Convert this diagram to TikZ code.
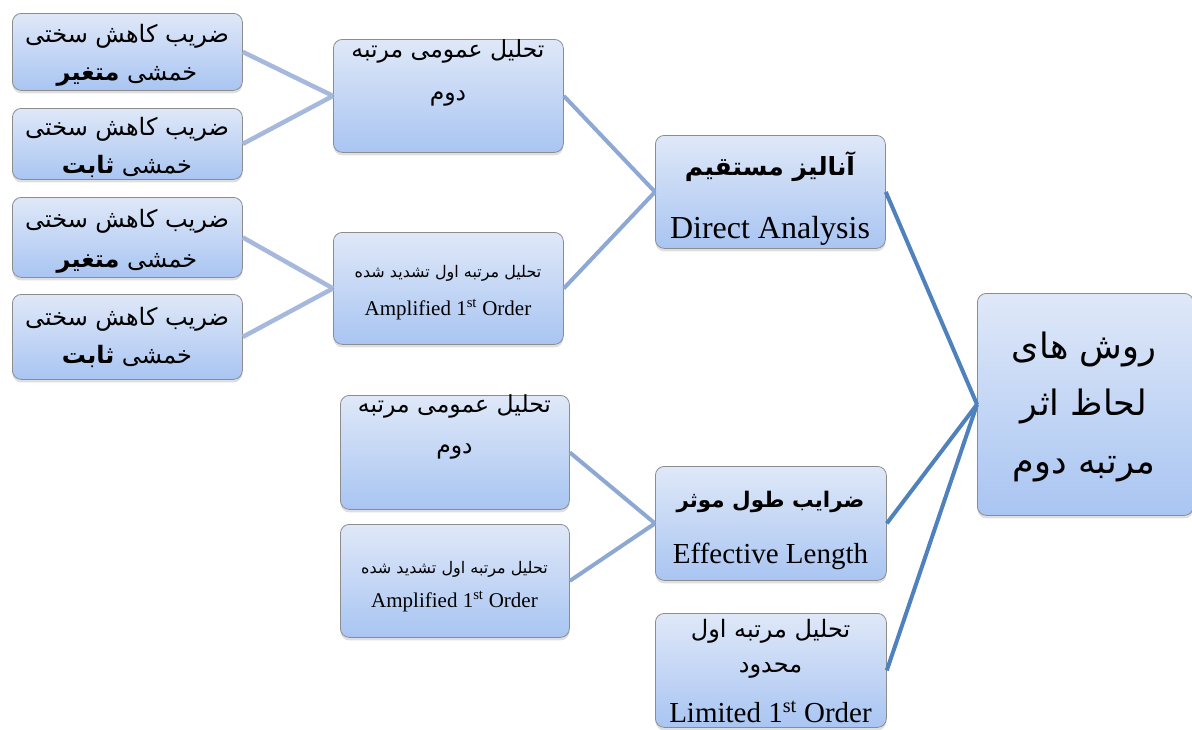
\documentclass[tikz,border=0pt]{standalone}
\usepackage{fontspec}
\setmainfont{Liberation Serif}
\newfontfamily\fa[Script=Arabic]{DejaVu Sans}
\TeXXeTstate=1
\usetikzlibrary{shadows}
\definecolor{boxtop}{HTML}{DFE8F8}
\definecolor{boxbot}{HTML}{A9C5F2}
\definecolor{edgeA}{HTML}{A6B9DC}
\definecolor{edgeB}{HTML}{8DA8D3}
\definecolor{edgeC}{HTML}{4F81BD}
\definecolor{boxline}{HTML}{8C8C8C}
\tikzset{
  box/.style={draw=boxline, line width=0.8pt, rounded corners=9pt,
    top color=boxtop, bottom color=boxbot, anchor=north west, inner sep=0pt,
    drop shadow={shadow xshift=0pt, shadow yshift=-3pt, opacity=0.25}},
  txt/.style={anchor=base, inner sep=0pt},
  faL/.style={txt, font=\fa\fontsize{24pt}{28pt}\selectfont},
  faM/.style={txt, font=\fa\fontsize{23.5pt}{28pt}\selectfont},
  faS/.style={txt, font=\fa\fontsize{16pt}{19pt}\selectfont},
  faD/.style={txt, font=\fa\bfseries\fontsize{25pt}{30pt}\selectfont},
  faE/.style={txt, font=\fa\bfseries\fontsize{21.5pt}{26pt}\selectfont},
  faR/.style={txt, font=\fa\fontsize{35pt}{42pt}\selectfont},
  enD/.style={txt, font=\fontsize{32pt}{38pt}\selectfont},
  enL/.style={txt, font=\fontsize{29pt}{35pt}\selectfont},
  enS/.style={txt, font=\fontsize{21pt}{25pt}\selectfont},
  linkA/.style={edgeA, line width=4.5pt},
  linkB/.style={edgeB, line width=4pt},
  linkC/.style={edgeC, line width=4pt}
}
\begin{document}
\begin{tikzpicture}[x=1pt, y=-1pt]
\useasboundingbox (0,0) rectangle (1192,729);
% boxes
\node[box, minimum width=230pt, minimum height=77pt] (L1) at (12,13) {};
\node[box, minimum width=230pt, minimum height=71pt] (L2) at (12,108) {};
\node[box, minimum width=230pt, minimum height=80pt] (L3) at (12,197) {};
\node[box, minimum width=230pt, minimum height=85pt] (L4) at (12,294) {};
\node[box, minimum width=230pt, minimum height=113pt] (M1) at (333,39) {};
\node[box, minimum width=230pt, minimum height=112pt] (M2) at (333,232) {};
\node[box, minimum width=229pt, minimum height=114pt] (M3) at (340,395) {};
\node[box, minimum width=229pt, minimum height=113pt] (M4) at (340,524) {};
\node[box, minimum width=230pt, minimum height=113pt] (D) at (655,135) {};
\node[box, minimum width=231pt, minimum height=114pt] (E) at (655,466) {};
\node[box, minimum width=231pt, minimum height=114pt] (Lim) at (655,613) {};
\node[box, minimum width=216pt, minimum height=222pt] (R) at (977,293) {};
% texts
\node[faL] (L1a) at (127,42) {\beginR ضریب کاهش سختی\endR};
\node[faL] (L1b) at (127,80) {\beginR خمشی \textbf{متغیر}\endR};
\node[faL] (L2a) at (127,135) {\beginR ضریب کاهش سختی\endR};
\node[faL] (L2b) at (127,173) {\beginR خمشی \textbf{ثابت}\endR};
\node[faL] (L3a) at (127,227) {\beginR ضریب کاهش سختی\endR};
\node[faL] (L3b) at (127,267) {\beginR خمشی \textbf{متغیر}\endR};
\node[faL] (L4a) at (127,325) {\beginR ضریب کاهش سختی\endR};
\node[faL] (L4b) at (127,363) {\beginR خمشی \textbf{ثابت}\endR};
\node[faM] (M1a) at (448,57) {\beginR تحلیل عمومی مرتبه\endR};
\node[faM] (M1b) at (448,100) {\beginR دوم\endR};
\node[faS] (M2a) at (448,277) {\beginR تحلیل مرتبه اول تشدید شده\endR};
\node[enS] (M2b) at (448,315) {Amplified 1\textsuperscript{st} Order};
\node[faM] (M3a) at (454.5,412) {\beginR تحلیل عمومی مرتبه\endR};
\node[faM] (M3b) at (454.5,453) {\beginR دوم\endR};
\node[faS] (M4a) at (454.5,573) {\beginR تحلیل مرتبه اول تشدید شده\endR};
\node[enS] (M4b) at (454.5,607) {Amplified 1\textsuperscript{st} Order};
\node[faD] (Da) at (770,175) {\beginR آنالیز مستقیم\endR};
\node[enD] (Db) at (770,238) {Direct Analysis};
\node[faE] (Ea) at (770.5,507) {\beginR ضرایب طول موثر\endR};
\node[enL] (Eb) at (770.5,563) {Effective Length};
\node[faL] (Lima) at (770.5,637) {\beginR تحلیل مرتبه اول\endR};
\node[faL] (Limb) at (770.5,672) {\beginR محدود\endR};
\node[enL] (Limc) at (770.5,722) {Limited 1\textsuperscript{st} Order};
\node[faR] (Ra) at (1084,358) {\beginR روش های\endR};
\node[faR] (Rb) at (1084,415) {\beginR لحاظ اثر\endR};
\node[faR] (Rc) at (1084,473) {\beginR مرتبه دوم\endR};
% connectors
\draw[linkA] (L1.east) -- (M1.west);
\draw[linkA] (L2.east) -- (M1.west);
\draw[linkA] (L3.east) -- (M2.west);
\draw[linkA] (L4.east) -- (M2.west);
\draw[linkB] (M1.east) -- (D.west);
\draw[linkB] (M2.east) -- (D.west);
\draw[linkB] (M3.east) -- (E.west);
\draw[linkB] (M4.east) -- (E.west);
\draw[linkC] (D.east) -- (R.west);
\draw[linkC] (E.east) -- (R.west);
\draw[linkC] (Lim.east) -- (R.west);
\end{tikzpicture}
\end{document}
